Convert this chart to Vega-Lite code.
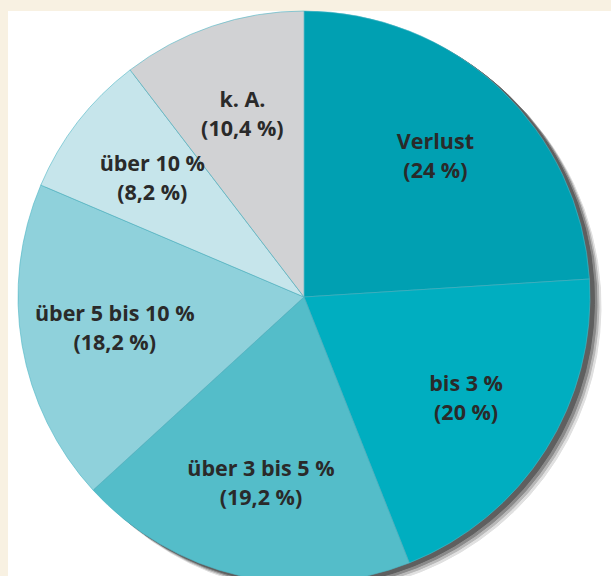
{
  "$schema": "https://vega.github.io/schema/vega-lite/v6.json",
  "width": 603,
  "height": 565,
  "autosize": "none",
  "padding": {"left": 8, "top": 11, "right": 0, "bottom": 0},
  "background": "#f8f1e2",
  "view": {"fill": "#ffffff", "stroke": null},
  "data": {
    "values": [
      {"o": 1, "name": "Verlust", "pct": "(24 %)", "value": 24},
      {"o": 2, "name": "bis 3 %", "pct": "(20 %)", "value": 20},
      {"o": 3, "name": "über 3 bis 5 %", "pct": "(19,2 %)", "value": 19.2},
      {"o": 4, "name": "über 5 bis 10 %", "pct": "(18,2 %)", "value": 18.2},
      {"o": 5, "name": "über 10 %", "pct": "(8,2 %)", "value": 8.2},
      {"o": 6, "name": "k. A.", "pct": "(10,4 %)", "value": 10.4}
    ]
  },
  "encoding": {
    "theta": {"field": "value", "type": "quantitative", "stack": true},
    "order": {"field": "o", "type": "quantitative"}
  },
  "layer": [
    {"mark": {"type": "arc", "outerRadius": 286, "fill": "#e0e0e0", "stroke": "#e0e0e0", "strokeWidth": 1, "x": {"expr": "width/2 - 5.5 + 11"}, "y": {"expr": "height/2 + 3.5 + 9"}}},
    {"mark": {"type": "arc", "outerRadius": 286, "fill": "#b8b8b8", "stroke": "#b8b8b8", "strokeWidth": 1, "x": {"expr": "width/2 - 5.5 + 9"}, "y": {"expr": "height/2 + 3.5 + 7"}}},
    {"mark": {"type": "arc", "outerRadius": 286, "fill": "#8a8a8a", "stroke": "#8a8a8a", "strokeWidth": 1, "x": {"expr": "width/2 - 5.5 + 7"}, "y": {"expr": "height/2 + 3.5 + 5"}}},
    {"mark": {"type": "arc", "outerRadius": 286, "fill": "#5f5f5f", "stroke": "#5f5f5f", "strokeWidth": 1, "x": {"expr": "width/2 - 5.5 + 4.5"}, "y": {"expr": "height/2 + 3.5 + 3"}}},
    {
      "mark": {"type": "arc", "outerRadius": 286, "stroke": "#4db6c4", "strokeWidth": 0.6, "x": {"expr": "width/2 - 5.5"}, "y": {"expr": "height/2 + 3.5"}},
      "encoding": {
        "color": {
          "field": "name",
          "type": "nominal",
          "scale": {
            "domain": ["Verlust", "bis 3 %", "über 3 bis 5 %", "über 5 bis 10 %", "über 10 %", "k. A."],
            "range": ["#00a0b2", "#00aec0", "#54bdc9", "#8fd1db", "#c6e5eb", "#d1d2d4"]
          },
          "legend": null
        }
      }
    },
    {
      "mark": {"type": "text", "radius": 192, "dy": -14.5, "font": "Open Sans", "fontWeight": "bold", "fontSize": 21.5, "fill": "#2a2a2a", "align": "center", "baseline": "middle", "x": {"expr": "width/2 - 5.5"}, "y": {"expr": "height/2 + 3.5"}},
      "encoding": {"text": {"field": "name", "type": "nominal"}}
    },
    {
      "mark": {"type": "text", "radius": 192, "dy": 14.5, "font": "Open Sans", "fontWeight": "bold", "fontSize": 21.5, "fill": "#2a2a2a", "align": "center", "baseline": "middle", "x": {"expr": "width/2 - 5.5"}, "y": {"expr": "height/2 + 3.5"}},
      "encoding": {"text": {"field": "pct", "type": "nominal"}}
    }
  ]
}
